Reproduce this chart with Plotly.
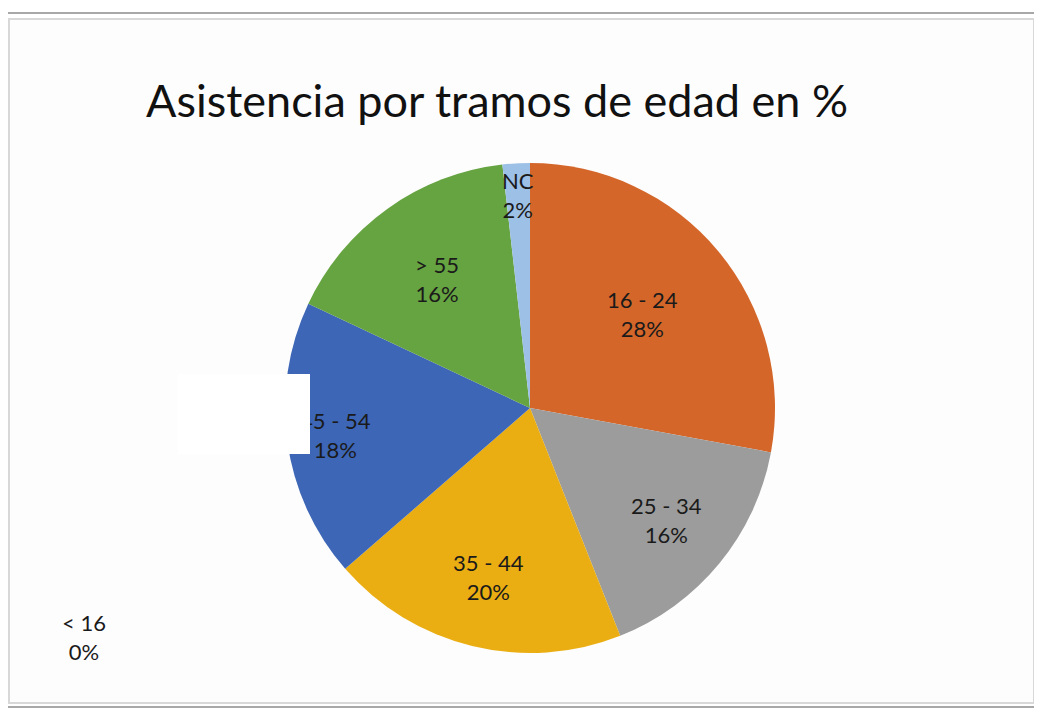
import math
import plotly.graph_objects as go

labels = ["16 - 24", "25 - 34", "35 - 44", "45 - 54", "> 55", "NC", "< 16"]
values = [27.9, 16.1, 19.6, 18.4, 16.2, 1.8, 0.0]
colors = ["#D4662A", "#9C9C9C", "#EAAE12", "#3D66B6", "#66A341", "#9DC0E6", "#5B9BD5"]
label_radius = [0.60, 0.72, 0.71, 0.80, 0.65, 0.87, None]

OFF = 8  # page body margin
W, H = 1042 - OFF, 711 - OFF
cx, cy, R = 530 - OFF, 408 - OFF, 245


def px(x):
    return (x - OFF) / W


def py(y):
    return 1 - (y - OFF) / H


fig = go.Figure(go.Pie(
    labels=labels, values=values, sort=False, direction="clockwise", rotation=0,
    marker=dict(colors=colors, line=dict(width=0)),
    textinfo="none", hoverinfo="label+percent",
    domain=dict(x=[(cx - R) / W, (cx + R) / W], y=[1 - (cy + R) / H, 1 - (cy - R) / H]),
    showlegend=False,
))

total = sum(values)
cum = 0.0
anns = []
for lab, v, rf in zip(labels, values, label_radius):
    mid = (cum + v / 2) / total * 2 * math.pi
    cum += v
    txt = f"{lab}<br>{round(v / total * 100):.0f}%"
    if rf is None:
        x, y = px(84), py(637)
    else:
        x = (cx + rf * R * math.sin(mid)) / W
        y = 1 - (cy - rf * R * math.cos(mid)) / H
    anns.append(dict(x=x, y=y, xref="paper", yref="paper", text=txt, showarrow=False,
                     font=dict(family="Lato, Open Sans, sans-serif", size=22, color="#1a1a1a"),
                     align="center", xanchor="center", yanchor="middle"))

anns.append(dict(x=px(497), y=py(100), xref="paper", yref="paper",
                 text="Asistencia por tramos de edad en %", showarrow=False,
                 font=dict(family="Lato, Open Sans, sans-serif", size=45, color="#111111"),
                 xanchor="center", yanchor="middle"))

# white patch that masks part of the chart (drawn over labels)
anns.append(dict(x=px(178), y=py(374), xref="paper", yref="paper", text=" ", showarrow=False,
                 xanchor="left", yanchor="top", width=132, height=80, bgcolor="#FFFFFF",
                 borderpad=0, borderwidth=0, font=dict(size=2)))

shapes = [
    dict(type="rect", xref="paper", yref="paper", x0=px(5), x1=px(1038), y0=py(707), y1=py(13),
         line=dict(color="#A8A8A8", width=2), fillcolor="rgba(0,0,0,0)", layer="below"),
    dict(type="rect", xref="paper", yref="paper", x0=px(9), x1=px(1034), y0=py(703), y1=py(19),
         line=dict(color="#D8D8D8", width=2), fillcolor="#FDFDFD", layer="below"),
]

fig.update_layout(
    width=W, height=H, margin=dict(l=0, r=0, t=0, b=0),
    paper_bgcolor="#FFFFFF", plot_bgcolor="#FFFFFF",
    annotations=anns, shapes=shapes,
)
fig.write_html("out.html")
